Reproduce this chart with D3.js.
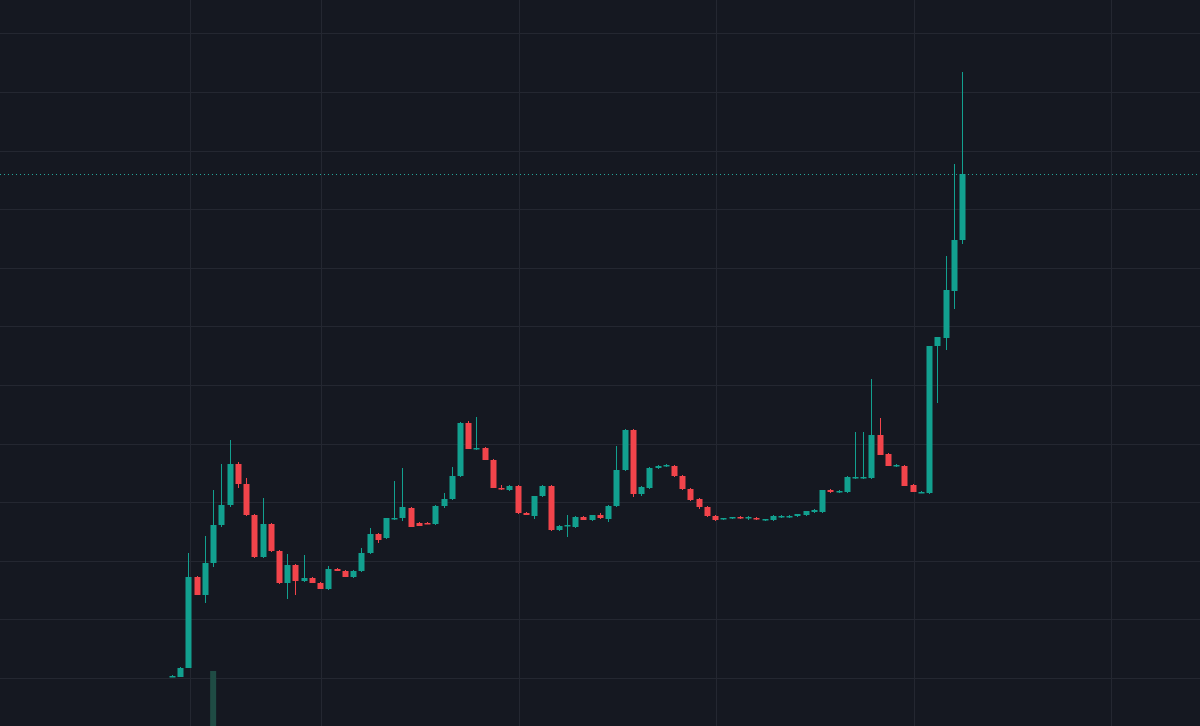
<!DOCTYPE html>
<html><head><meta charset="utf-8">
<script src="https://cdn.jsdelivr.net/npm/d3@7/dist/d3.min.js"></script>
<style>html,body{margin:0;padding:0;background:#151821;overflow:hidden}</style>
</head><body><svg id="c" width="1200" height="726"></svg>
<script>
// OHLC values (price units)
const opens  = [50,49,58,149,131,163,201,221,262,242,211,169,202,175,143,161,145,148,143,137,157,155,149,155,173,192,188,208,208,218,203,203,202,220,227,250,303,277,278,266,238,236,240,213,210,230,240,196,200,199,209,206,211,207,220,256,296,232,238,258,260,260,250,237,227,219,210,207,208,209,208,208,206,206,209,209,210,211,214,214,236,234,234,248,248,248,291,272,260,260,241,233,233,380,388,435,486];
const highs  = [51,59,173,150,190,236,262,286,264,248,212,228,203,176,172,162,171,149,144,160,158,156,156,178,198,193,208,245,258,219,204,204,221,233,259,304,305,309,279,267,241,241,241,214,230,241,241,201,211,210,210,211,213,221,280,297,297,240,259,261,262,261,251,238,228,220,211,208,209,210,210,209,207,211,211,211,212,215,217,236,237,236,250,294,294,347,308,273,262,261,242,235,380,389,470,562,654];
const lows   = [49,49,58,131,123,159,199,219,238,210,168,168,174,142,127,131,144,143,137,136,155,149,148,154,172,183,187,206,205,199,200,202,201,218,226,249,277,276,266,238,236,235,212,211,207,229,195,195,189,198,206,205,207,204,219,255,229,230,237,257,259,249,236,225,217,209,205,206,207,207,206,206,205,205,208,208,209,210,213,213,233,233,233,247,247,247,271,260,259,240,234,233,232,323,376,417,482];
const closes = [50,58,149,131,163,201,221,262,242,211,169,202,175,143,161,145,148,143,137,157,155,149,155,173,192,186,208,208,219,199,200,202,220,227,250,303,277,278,266,238,237,240,213,211,230,240,196,200,201,209,206,211,208,220,256,296,232,239,258,260,261,250,237,226,219,210,206,208,209,208,209,207,207,210,210,210,212,215,216,236,234,235,249,249,249,291,271,260,261,240,234,234,380,389,436,486,552];
const volumes = opens.map((_, i) => i === 5 ? 55 : 0);
const gridPrices = [48,106.6,165.2,223.8,282.4,341,399.6,458.2,516.8,575.4,634,692.6];
const gridIdx = [2.19,18.1,42.2,66.1,90.2,114.1];

const W = 1200, H = 726;
const svg = d3.select('#c');
const x = d3.scaleLinear().domain([0, 96]).range([172, 962]);
const y = d3.scaleLinear().domain([0, 726]).range([726, 0]);
const yv = d3.scaleLinear().domain([0, 100]).range([726, 626]);
const up = '#26a69a', upC = '#12a08f', dn = '#ef5350', dnC = '#f2444b';

const g = svg.append('g');
g.selectAll('.hg').data(gridPrices).join('line')
  .attr('x1', 0).attr('x2', W).attr('y1', d => Math.round(y(d)) + .5).attr('y2', d => Math.round(y(d)) + .5)
  .attr('stroke', '#242731').attr('stroke-width', 1);
g.selectAll('.vg').data(gridIdx).join('line')
  .attr('y1', 0).attr('y2', H).attr('x1', d => Math.round(x(d)) + .5).attr('x2', d => Math.round(x(d)) + .5)
  .attr('stroke', '#242731').attr('stroke-width', 1);

const data = opens.map((o, i) => ({i, o, h: highs[i], l: lows[i], c: closes[i], v: volumes[i]}));

svg.selectAll('.vol').data(data.filter(d => d.v > 0)).join('rect')
  .attr('x', d => x(d.i) - 3).attr('width', 6)
  .attr('y', d => yv(d.v)).attr('height', d => H - yv(d.v))
  .attr('fill', '#1f4b44');

const cw = 6;
svg.selectAll('.wick').data(data).join('line')
  .attr('x1', d => Math.round(x(d.i)) + .5).attr('x2', d => Math.round(x(d.i)) + .5)
  .attr('y1', d => y(d.h)).attr('y2', d => y(d.l))
  .attr('stroke', d => d.c >= d.o ? upC : dnC).attr('stroke-width', 1);
svg.selectAll('.body').data(data).join('rect')
  .attr('x', d => Math.round(x(d.i)) + .5 - cw / 2).attr('width', cw)
  .attr('y', d => y(Math.max(d.o, d.c)))
  .attr('height', d => Math.max(1.5, Math.abs(y(d.o) - y(d.c))))
  .attr('fill', d => d.c >= d.o ? upC : dnC);

const last = closes[closes.length - 1];
svg.append('line').attr('x1', 0).attr('x2', W)
  .attr('y1', Math.round(y(last)) + .5).attr('y2', Math.round(y(last)) + .5)
  .attr('stroke', up).attr('stroke-width', 1).attr('stroke-dasharray', '1,3');
</script></body></html>
